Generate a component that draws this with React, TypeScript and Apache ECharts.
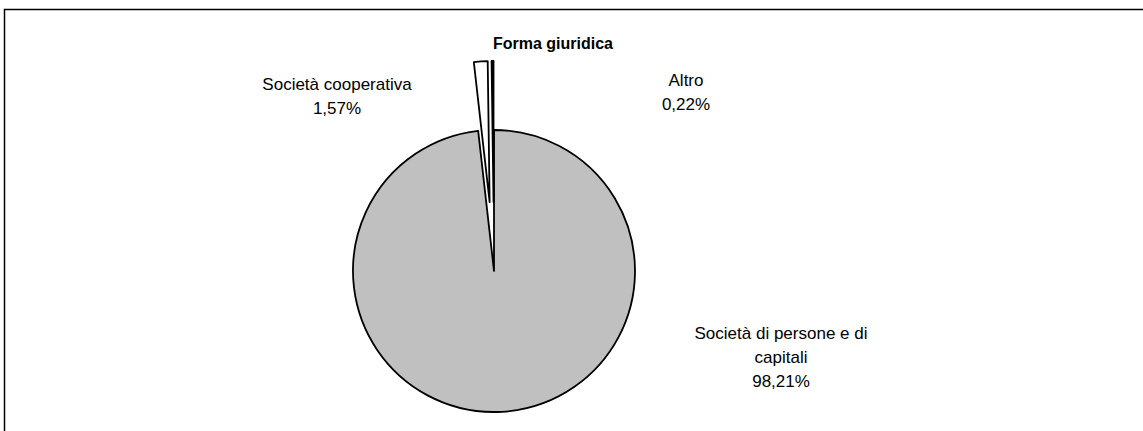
import React, { useEffect, useRef } from "react";
import * as echarts from "echarts";

const title = "Forma giuridica";
const categories = ["Società di persone e di capitali", "Società cooperativa", "Altro"];
const labelTexts = ["Società di persone e di\ncapitali", "Società cooperativa", "Altro"];
const values = [98.21, 1.57, 0.22];
const colors = ["#C0C0C0", "#FFFFFF", "#000000"];
const exploded = [false, true, true];

const CENTER: [number, number] = [494, 271];
const RADIUS = 141;
const EXPLODE = 69;

const labelAnchors: Record<number, [number, number]> = {
  0: [781, 357],
  1: [337, 96],
  2: [686, 92],
};

export default function App() {
  const ref = useRef<HTMLDivElement>(null);
  useEffect(() => {
    if (!ref.current) return;
    const chart = echarts.init(ref.current, undefined, { renderer: "svg" });
    const fmt = (v: number) => v.toFixed(2).replace(".", ",") + "%";
    const total = values.reduce((a, b) => a + b, 0);
    const transparent = "rgba(0,0,0,0)";

    const mainSeries = {
      type: "pie",
      center: CENTER,
      radius: RADIUS,
      startAngle: 90,
      clockwise: true,
      avoidLabelOverlap: false,
      silent: true,
      label: {
        show: true,
        position: "outside",
        fontFamily: "Liberation Sans",
        fontSize: 17,
        lineHeight: 24,
        color: "#000",
        align: "center",
        formatter: (p: any) => labelTexts[p.dataIndex] + "\n" + fmt(p.value),
      },
      labelLine: { show: false },
      labelLayout: (p: any) => {
        const a = labelAnchors[p.dataIndex];
        return { x: a[0], y: a[1], align: "center", verticalAlign: "middle" };
      },
      emphasis: { disabled: true },
      data: categories.map((c, i) => ({
        name: c,
        value: values[i],
        itemStyle: exploded[i]
          ? { color: transparent, borderWidth: 0 }
          : { color: colors[i], borderColor: "#000", borderWidth: 1.8 },
      })),
    };

    const explodedSeries: any[] = [];
    let cum = 0;
    values.forEach((v, i) => {
      const mid = ((cum + v / 2) / total) * 2 * Math.PI;
      cum += v;
      if (!exploded[i]) return;
      const cx = CENTER[0] + EXPLODE * Math.sin(mid);
      const cy = CENTER[1] - EXPLODE * Math.cos(mid);
      explodedSeries.push({
        type: "pie",
        center: [cx, cy],
        radius: RADIUS,
        startAngle: 90,
        clockwise: true,
        silent: true,
        label: { show: false },
        labelLine: { show: false },
        emphasis: { disabled: true },
        data: categories.map((c, j) => ({
          name: c,
          value: values[j],
          itemStyle:
            j === i
              ? { color: colors[j], borderColor: "#000", borderWidth: 1.8 }
              : { color: transparent, borderWidth: 0 },
        })),
      });
    });

    chart.setOption({
      animation: false,
      backgroundColor: "#ffffff",
      title: {
        text: title,
        left: 548,
        top: 30,
        textAlign: "center",
        textStyle: {
          fontFamily: "Liberation Sans",
          fontSize: 16,
          fontWeight: "bold",
          color: "#000",
        },
      },
      graphic: [
        {
          type: "rect",
          shape: { x: 4.5, y: 9.5, width: 1300, height: 600 },
          style: { fill: "none", stroke: "#000", lineWidth: 1.5 },
          silent: true,
          z: 100,
        },
      ],
      series: [mainSeries, ...explodedSeries],
    });
    return () => chart.dispose();
  }, []);
  return (
    <div
      ref={ref}
      style={{ position: "absolute", left: 0, top: 0, width: 1143, height: 431 }}
    />
  );
}
